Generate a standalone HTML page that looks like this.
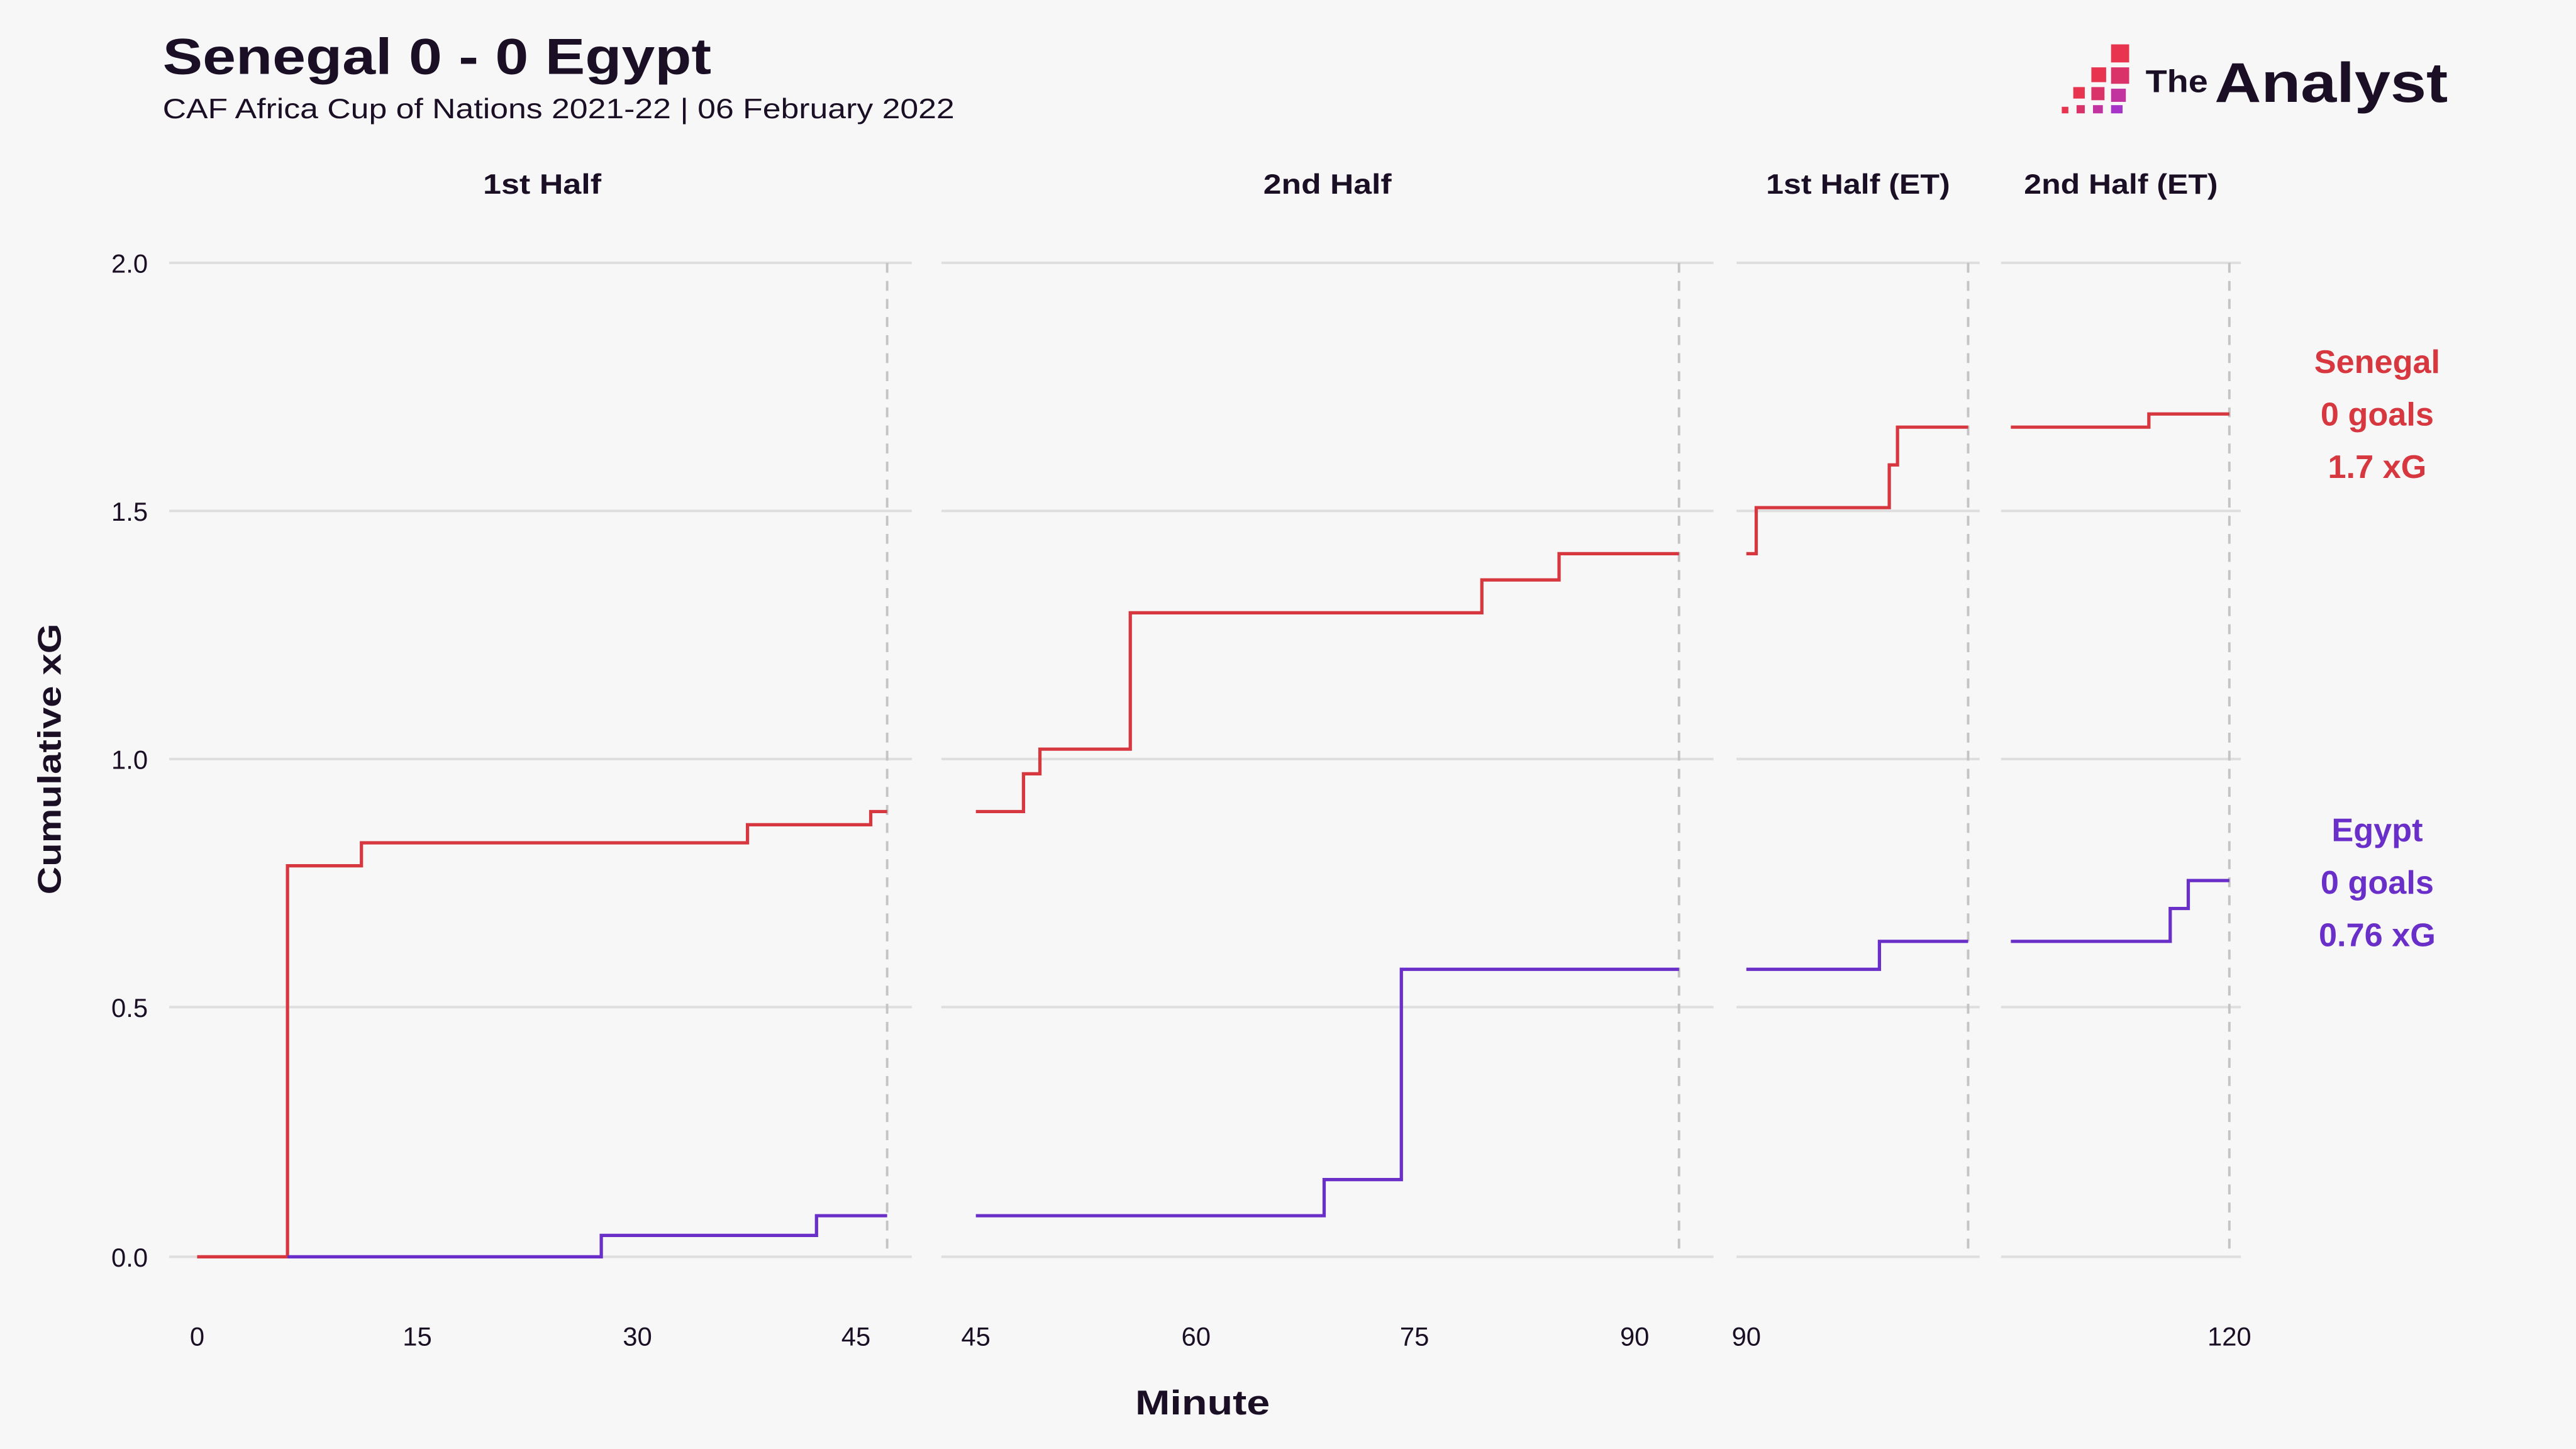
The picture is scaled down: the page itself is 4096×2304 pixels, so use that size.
<!DOCTYPE html>
<html><head><meta charset="utf-8"><style>
html,body{margin:0;padding:0;background:#f7f7f7;}
svg{display:block;}
text{font-family:"Liberation Sans",sans-serif;}
</style></head><body>
<svg width="4096" height="2304" viewBox="0 0 1568 882" xmlns="http://www.w3.org/2000/svg">
<rect width="1568" height="882" fill="#f7f7f7"/>
<text x="99" y="45" font-size="31" font-weight="bold" fill="#1a0f24" textLength="334" lengthAdjust="spacingAndGlyphs">Senegal 0 - 0 Egypt</text>
<text x="99" y="72" font-size="17" fill="#1a0f24" textLength="482" lengthAdjust="spacingAndGlyphs">CAF Africa Cup of Nations 2021-22 | 06 February 2022</text>
<!-- logo -->
<g>
<rect x="1285" y="27" width="11" height="11" fill="#e8344e"/>
<rect x="1285" y="41" width="11" height="10" fill="#d9336a"/>
<rect x="1273" y="41" width="9" height="9" fill="#e8344e"/>
<rect x="1285" y="54" width="9" height="8" fill="#c233a0"/>
<rect x="1273" y="53" width="8" height="8" fill="#d9336a"/>
<rect x="1262" y="53" width="7" height="7" fill="#e8344e"/>
<rect x="1285" y="64" width="7" height="5" fill="#a833c8"/>
<rect x="1274" y="64" width="6" height="5" fill="#c233a0"/>
<rect x="1264" y="64" width="5" height="5" fill="#d9336a"/>
<rect x="1255" y="65" width="4" height="4" fill="#e8344e"/>
<text x="1306" y="56" font-size="19" font-weight="bold" fill="#1a0f24" textLength="38" lengthAdjust="spacingAndGlyphs">The</text>
<text x="1348" y="62" font-size="34" font-weight="bold" fill="#1a0f24" textLength="142" lengthAdjust="spacingAndGlyphs">Analyst</text>
</g>
<!-- facet titles -->
<g font-size="17" font-weight="bold" fill="#1a0f24" text-anchor="middle">
<text x="330" y="118" textLength="72" lengthAdjust="spacingAndGlyphs">1st Half</text>
<text x="808" y="118" textLength="78" lengthAdjust="spacingAndGlyphs">2nd Half</text>
<text x="1131" y="118" textLength="112" lengthAdjust="spacingAndGlyphs">1st Half (ET)</text>
<text x="1291" y="118" textLength="118" lengthAdjust="spacingAndGlyphs">2nd Half (ET)</text>
</g>
<!-- gridlines -->
<g stroke="#dedede" stroke-width="1.5">
<path d="M103 160H555M573 160H1043M1057 160H1205M1218 160H1364"/>
<path d="M103 311H555M573 311H1043M1057 311H1205M1218 311H1364"/>
<path d="M103 462H555M573 462H1043M1057 462H1205M1218 462H1364"/>
<path d="M103 613H555M573 613H1043M1057 613H1205M1218 613H1364"/>
<path d="M103 765H555M573 765H1043M1057 765H1205M1218 765H1364"/>
</g>
<g stroke="#c4c4c4" stroke-width="1.5" stroke-dasharray="6,5">
<path d="M540 160V765M1022 160V765M1198 160V765M1357 160V765"/>
</g>
<!-- y ticks -->
<g font-size="16" fill="#1a0f24" text-anchor="end">
<text x="90" y="166">2.0</text><text x="90" y="317">1.5</text><text x="90" y="468">1.0</text><text x="90" y="619">0.5</text><text x="90" y="771">0.0</text>
</g>
<text transform="translate(37 462) rotate(-90)" font-size="20" font-weight="bold" fill="#1a0f24" text-anchor="middle" textLength="165" lengthAdjust="spacingAndGlyphs">Cumulative xG</text>
<!-- x ticks -->
<g font-size="16" fill="#1a0f24" text-anchor="middle">
<text x="120" y="819">0</text><text x="254" y="819">15</text><text x="388" y="819">30</text><text x="521" y="819">45</text>
<text x="594" y="819">45</text><text x="728" y="819">60</text><text x="861" y="819">75</text><text x="995" y="819">90</text>
<text x="1063" y="819">90</text><text x="1357" y="819">120</text>
</g>
<text x="732" y="861" font-size="21" font-weight="bold" fill="#1a0f24" text-anchor="middle" textLength="82" lengthAdjust="spacingAndGlyphs">Minute</text>
<!-- series -->
<g fill="none" stroke-width="2">
<path stroke="#d7373f" d="M120 765H175V527H220V513H455V502H530V494H540"/>
<path stroke="#d7373f" d="M594 494H623V471H633V456H688V373H902V353H949V337H1022"/>
<path stroke="#d7373f" d="M1063 337H1069V309H1150V283H1155V260H1198"/>
<path stroke="#d7373f" d="M1224 260H1308V252H1357"/>
<path stroke="#6a2ec9" d="M175 765H366V752H497V740H540"/>
<path stroke="#6a2ec9" d="M594 740H806V718H853V590H1022"/>
<path stroke="#6a2ec9" d="M1063 590H1144V573H1198"/>
<path stroke="#6a2ec9" d="M1224 573H1321V553H1332V536H1357"/>
</g>
<g font-size="20" font-weight="bold" text-anchor="middle">
<text x="1447" y="227" fill="#d7373f">Senegal</text>
<text x="1447" y="259" fill="#d7373f">0 goals</text>
<text x="1447" y="291" fill="#d7373f">1.7 xG</text>
<text x="1447" y="512" fill="#6a2ec9">Egypt</text>
<text x="1447" y="544" fill="#6a2ec9">0 goals</text>
<text x="1447" y="576" fill="#6a2ec9">0.76 xG</text>
</g>
</svg>
</body></html>
